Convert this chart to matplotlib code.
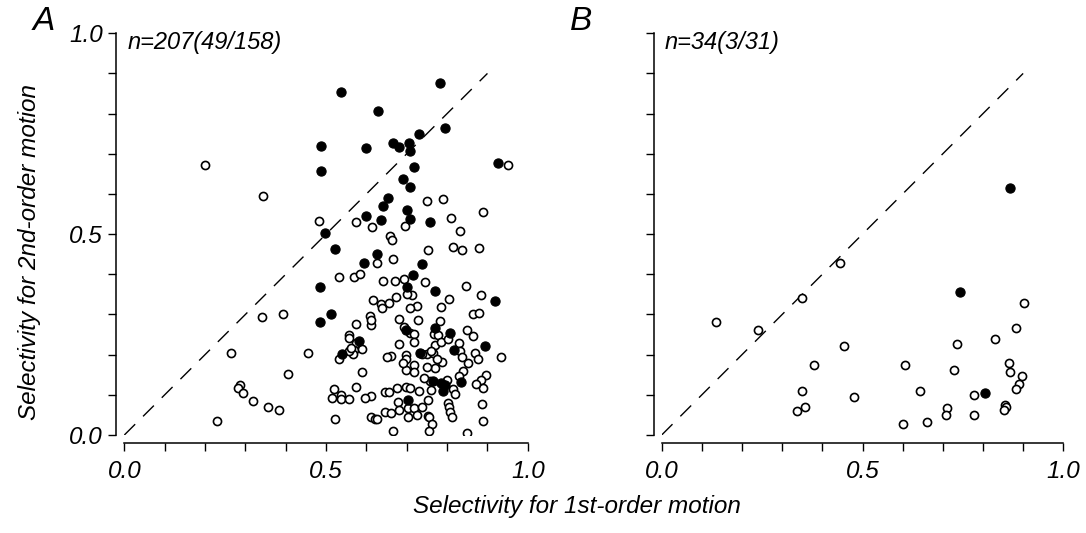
import matplotlib
matplotlib.use("Agg")
import matplotlib.pyplot as plt
import numpy as np

plt.rcParams["font.family"] = ["Liberation Sans", "DejaVu Sans"]
plt.rcParams["font.style"] = "italic"

# panel A, filled = significant cells
a_filled_x = [0.537, 0.783, 0.628, 0.795, 0.730, 0.488, 0.598, 0.665, 0.682, 0.706,
              0.708, 0.487, 0.717, 0.926, 0.691, 0.707, 0.654, 0.642, 0.700, 0.598,
              0.636, 0.709, 0.758, 0.498, 0.521, 0.627, 0.593, 0.737, 0.716, 0.486,
              0.700, 0.769, 0.918, 0.512, 0.486, 0.697, 0.769, 0.807, 0.581, 0.893,
              0.540, 0.818, 0.732, 0.766, 0.795, 0.835, 0.703, 0.785, 0.790]
a_filled_y = [0.854, 0.875, 0.806, 0.765, 0.749, 0.720, 0.715, 0.728, 0.718, 0.728,
              0.708, 0.658, 0.668, 0.678, 0.637, 0.617, 0.591, 0.570, 0.559, 0.545,
              0.534, 0.537, 0.531, 0.504, 0.462, 0.450, 0.428, 0.425, 0.399, 0.368,
              0.368, 0.359, 0.334, 0.300, 0.280, 0.262, 0.266, 0.253, 0.233, 0.221,
              0.201, 0.212, 0.205, 0.134, 0.124, 0.131, 0.087, 0.129, 0.110]

a_open_x = [0.200, 0.344, 0.950, 0.751, 0.789, 0.888, 0.482, 0.575, 0.614, 0.696,
            0.809, 0.833, 0.659, 0.663, 0.815, 0.836, 0.879, 0.753, 0.667, 0.625,
            0.533, 0.569, 0.583, 0.641, 0.672, 0.693, 0.746, 0.846, 0.714, 0.673,
            0.805, 0.883, 0.617, 0.637, 0.655, 0.638, 0.726, 0.707, 0.786, 0.340,
            0.394, 0.610, 0.611, 0.573, 0.680, 0.782, 0.865, 0.880, 0.694, 0.707,
            0.718, 0.767, 0.778, 0.849, 0.863, 0.556, 0.556, 0.574, 0.569, 0.566,
            0.533, 0.680, 0.718, 0.769, 0.785, 0.802, 0.829, 0.833, 0.869, 0.838,
            0.876, 0.851, 0.934, 0.264, 0.455, 0.697, 0.697, 0.751, 0.766, 0.787,
            0.718, 0.770, 0.698, 0.718, 0.750, 0.406, 0.590, 0.897, 0.883, 0.888,
            0.799, 0.815, 0.758, 0.760, 0.287, 0.282, 0.293, 0.320, 0.357, 0.384,
            0.230, 0.520, 0.514, 0.538, 0.536, 0.558, 0.573, 0.612, 0.523, 0.645,
            0.655, 0.676, 0.698, 0.707, 0.731, 0.678, 0.704, 0.719, 0.737, 0.752,
            0.802, 0.805, 0.808, 0.812, 0.886, 0.888, 0.645, 0.660, 0.681, 0.704,
            0.725, 0.752, 0.755, 0.763, 0.755, 0.667, 0.850, 0.611, 0.622, 0.627,
            0.738, 0.556, 0.562, 0.612, 0.661, 0.742, 0.820, 0.872, 0.596, 0.690,
            0.775, 0.840, 0.728, 0.652, 0.589, 0.760, 0.829, 0.700]
a_open_y = [0.672, 0.594, 0.673, 0.583, 0.587, 0.554, 0.532, 0.529, 0.518, 0.519,
            0.540, 0.507, 0.495, 0.485, 0.469, 0.460, 0.466, 0.461, 0.437, 0.427,
            0.393, 0.393, 0.400, 0.384, 0.383, 0.388, 0.380, 0.372, 0.348, 0.343,
            0.338, 0.349, 0.336, 0.327, 0.328, 0.316, 0.321, 0.316, 0.318, 0.293,
            0.301, 0.295, 0.273, 0.276, 0.288, 0.283, 0.300, 0.303, 0.268, 0.253,
            0.251, 0.251, 0.248, 0.261, 0.246, 0.250, 0.241, 0.228, 0.212, 0.202,
            0.188, 0.227, 0.232, 0.223, 0.232, 0.238, 0.230, 0.210, 0.205, 0.193,
            0.189, 0.178, 0.195, 0.205, 0.205, 0.198, 0.188, 0.202, 0.203, 0.181,
            0.174, 0.166, 0.162, 0.157, 0.168, 0.152, 0.156, 0.149, 0.137, 0.117,
            0.137, 0.114, 0.134, 0.113, 0.124, 0.117, 0.104, 0.085, 0.069, 0.062,
            0.036, 0.115, 0.092, 0.099, 0.089, 0.089, 0.120, 0.097, 0.041, 0.107,
            0.106, 0.118, 0.120, 0.118, 0.109, 0.083, 0.068, 0.067, 0.069, 0.087,
            0.079, 0.069, 0.058, 0.046, 0.076, 0.035, 0.057, 0.054, 0.061, 0.046,
            0.049, 0.048, 0.046, 0.027, 0.011, 0.011, 0.005, 0.044, 0.039, 0.039,
            0.202, 0.208, 0.216, 0.285, 0.196, 0.142, 0.102, 0.126, 0.092, 0.180,
            0.190, 0.160, 0.287, 0.193, 0.213, 0.210, 0.148, 0.350]

# panel B
b_filled_x = [0.867, 0.743, 0.806]
b_filled_y = [0.616, 0.357, 0.104]
b_open_x = [0.135, 0.240, 0.350, 0.443, 0.455, 0.379, 0.349, 0.338, 0.357, 0.479,
            0.607, 0.600, 0.643, 0.661, 0.710, 0.708, 0.727, 0.735, 0.778, 0.778,
            0.830, 0.866, 0.867, 0.883, 0.902, 0.896, 0.889, 0.882, 0.855, 0.857,
            0.853]
b_open_y = [0.282, 0.261, 0.340, 0.427, 0.222, 0.174, 0.110, 0.059, 0.069, 0.095,
            0.174, 0.027, 0.110, 0.033, 0.067, 0.050, 0.162, 0.227, 0.100, 0.050,
            0.239, 0.178, 0.158, 0.267, 0.329, 0.147, 0.127, 0.114, 0.075, 0.069,
            0.061]

panels = [
    ("A", "n=207(49/158)", a_open_x, a_open_y, a_filled_x, a_filled_y),
    ("B", "n=34(3/31)", b_open_x, b_open_y, b_filled_x, b_filled_y),
]

fig = plt.figure(figsize=(10.86, 5.33), dpi=100)
ax_rects = [(0.1145, 0.1839, 0.3715, 0.7537), (0.6093, 0.1839, 0.3698, 0.7537)]

for idx, (letter, ntext, ox, oy, fx, fy) in enumerate(panels):
    ax = fig.add_axes(ax_rects[idx])
    ax.plot([0, 0.9], [0, 0.9], color="black", linewidth=1.0,
            dashes=(11, 8), zorder=1)
    ax.scatter(ox, oy, s=34, facecolors="white", edgecolors="black",
               linewidths=1.2, zorder=2)
    ax.scatter(fx, fy, s=44, facecolors="black", edgecolors="black",
               linewidths=0.8, zorder=3)
    ax.set_xlim(0, 1)
    ax.set_ylim(0, 1)
    for side in ("top", "right"):
        ax.spines[side].set_visible(False)
    for side in ("left", "bottom"):
        ax.spines[side].set_position(("outward", 5.8))
        ax.spines[side].set_bounds(0, 1)
        ax.spines[side].set_linewidth(1.1)
    ax.set_xticks([0, 0.5, 1.0])
    ax.set_yticks([0, 0.5, 1.0])
    ax.set_xticks(np.arange(0, 1.01, 0.1), minor=True)
    ax.set_yticks(np.arange(0, 1.01, 0.1), minor=True)
    ax.tick_params(which="both", direction="out", length=5.5, width=1.0)
    ax.tick_params(axis="x", which="major", pad=7, labelsize=17.5)
    ax.tick_params(axis="y", which="major", pad=4, labelsize=17.5)
    ax.set_xticklabels(["0.0", "0.5", "1.0"])
    if idx == 0:
        ax.set_yticklabels(["0.0", "0.5", "1.0"])
    else:
        ax.set_yticklabels([])
    ax.text(0.008, 1.005, ntext, transform=ax.transData, fontsize=17,
            ha="left", va="top")
    ax.patch.set_visible(False)

fig.text(44 / 1086, 1 - 21 / 533, "A", fontsize=24, ha="center", va="center")
fig.text(581 / 1086, 1 - 21 / 533, "B", fontsize=24, ha="center", va="center")
fig.text(30 / 1086, 1 - 252 / 533, "Selectivity for 2nd-order motion",
         fontsize=17.5, rotation=90, ha="center", va="center")
fig.text(577 / 1086, 1 - 506 / 533, "Selectivity for 1st-order motion",
         fontsize=17.5, ha="center", va="center")

fig.savefig("out.png", dpi=100)
